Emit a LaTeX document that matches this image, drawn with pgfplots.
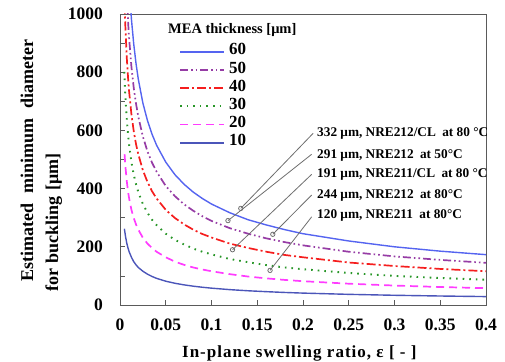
\documentclass[border=0pt]{standalone}
\usepackage{pgfplots}
\pgfplotsset{compat=1.18}
\usepackage{fontspec}
\setmainfont{Liberation Serif}
\definecolor{c60}{RGB}{85,100,240}
\definecolor{c50}{RGB}{150,60,165}
\definecolor{c40}{RGB}{245,30,30}
\definecolor{c30}{RGB}{40,150,40}
\definecolor{c20}{RGB}{255,60,255}
\definecolor{c10}{RGB}{75,85,185}
\definecolor{lead}{RGB}{110,110,110}
\definecolor{axc}{RGB}{90,90,90}
\begin{document}
\begin{tikzpicture}
\begin{axis}[name=ax, scale only axis, width=366pt, height=291pt,
  xmin=0, xmax=0.4, ymin=0, ymax=1000, scaled ticks=false,
  xtick={0,0.05,0.1,0.15,0.2,0.25,0.3,0.35,0.4},
  xticklabels={0,0.05,0.1,0.15,0.2,0.25,0.3,0.35,0.4},
  ytick={0,200,400,600,800,1000},
  yticklabels={0,200,400,600,800,1000},
  minor ytick={100,300,500,700,900},
  tick align=inside, xtick pos=bottom, ytick pos=left,
  major tick length=5pt, minor tick length=5pt,
  axis line style={draw=axc, line width=0.9pt},
  every tick/.style={draw=axc, line width=0.8pt},
  tick label style={font=\fontsize{17.5}{17.5}\selectfont\bfseries},
  xticklabel style={inner sep=0pt, anchor=north, text height=12pt, yshift=-13pt},
  yticklabel style={inner sep=0pt, anchor=east, xshift=-17pt},
  xlabel={\addfontfeatures{LetterSpace=6}In-plane swelling ratio, ε [ - ]},
  xlabel style={font=\fontsize{17}{17}\selectfont\bfseries, anchor=base, at={(axis description cs:0.49,0)}, yshift=-52pt},
  ylabel={\hspace*{10pt}Estimated\hspace{10pt}minimum\hspace{10pt}diameter\\for buckling\hspace{6pt}[μm]},
  ylabel style={font=\fontsize{18}{25}\selectfont\bfseries, align=left, anchor=north, at={(axis description cs:-0.2814,0.481)}},
  legend style={at={(axis description cs:0.161,0.902)}, anchor=north west, draw=none, fill=none,
    font=\fontsize{17}{17}\selectfont\bfseries, inner sep=0pt, row sep=0pt, column sep=4pt,
    nodes={inner sep=0pt, text height=12.2pt, text depth=6pt}},
  legend cell align=left,
  legend image code/.code={\draw[#1] (0pt,0pt) -- (44pt,0pt);},
  clip=true,
]
\addplot[c60, line width=1.4pt] coordinates {
(0.009,1157) (0.01,1098) (0.0125,982) (0.015,897) (0.0175,830) (0.02,776) (0.025,694) (0.03,634) (0.035,587) (0.04,549) (0.05,491) (0.06,448) (0.07,415) (0.08,388) (0.09,366) (0.1,347) (0.12,317) (0.14,293) (0.16,275) (0.18,259) (0.2,245) (0.25,220) (0.3,200) (0.35,185) (0.4,173)};
\addplot[c50, line width=1.7pt, dash pattern=on 8pt off 3pt on 1.6pt off 3pt on 1.6pt off 3pt] coordinates {
(0.006,1181) (0.0075,1057) (0.009,965) (0.01,915) (0.0125,818) (0.015,747) (0.0175,692) (0.02,647) (0.025,579) (0.03,528) (0.035,489) (0.04,458) (0.05,409) (0.06,374) (0.07,346) (0.08,324) (0.09,305) (0.1,289) (0.12,264) (0.14,245) (0.16,229) (0.18,216) (0.2,205) (0.25,183) (0.3,167) (0.35,155) (0.4,145)};
\addplot[c40, line width=1.7pt, dash pattern=on 9pt off 3pt on 2pt off 3pt] coordinates {
(0.0045,1091) (0.005,1035) (0.006,945) (0.0075,845) (0.009,772) (0.01,732) (0.0125,655) (0.015,598) (0.0175,553) (0.02,518) (0.025,463) (0.03,423) (0.035,391) (0.04,366) (0.05,327) (0.06,299) (0.07,277) (0.08,259) (0.09,244) (0.1,232) (0.12,211) (0.14,196) (0.16,183) (0.18,172) (0.2,164) (0.25,146) (0.3,134) (0.35,124) (0.4,116)};
\addplot[c30, line width=1.9pt, dash pattern=on 1.6pt off 5pt] coordinates {
(0.0047,801) (0.005,776) (0.006,709) (0.0075,634) (0.009,579) (0.01,549) (0.0125,491) (0.015,448) (0.0175,415) (0.02,388) (0.025,347) (0.03,317) (0.035,293) (0.04,274.5) (0.05,245) (0.06,224) (0.07,208) (0.08,194) (0.09,183) (0.1,174) (0.12,158) (0.14,147) (0.16,137) (0.18,129) (0.2,123) (0.25,110) (0.3,100) (0.35,92.7) (0.4,86.7)};
\addplot[c20, line width=1.7pt, dash pattern=on 8pt off 5pt] coordinates {
(0.005,518) (0.006,473) (0.0075,423) (0.009,386) (0.01,366) (0.0125,327) (0.015,299) (0.0175,277) (0.02,259) (0.025,231) (0.03,211) (0.035,196) (0.04,183) (0.05,164) (0.06,149) (0.07,138) (0.08,129) (0.09,122) (0.1,116) (0.12,106) (0.14,97.8) (0.16,91.5) (0.18,86.2) (0.2,81.8) (0.25,73.2) (0.3,66.8) (0.35,61.8) (0.4,57.8)};
\addplot[c10, line width=1.4pt] coordinates {
(0.0048,262) (0.006,236) (0.0075,211) (0.009,193) (0.01,183) (0.0125,164) (0.015,149) (0.0175,138) (0.02,129) (0.025,116) (0.03,106) (0.035,98) (0.04,91.5) (0.05,81.8) (0.06,74.7) (0.07,69.2) (0.08,64.7) (0.09,61) (0.1,57.9) (0.12,52.8) (0.14,48.9) (0.16,45.8) (0.18,43.1) (0.2,40.9) (0.25,36.6) (0.3,33.4) (0.35,30.9) (0.4,28.9)};
\legend{60,50,40,30,20,10}
% leader lines
\addplot[lead, line width=0.8pt, forget plot] coordinates {(0.132,332) (0.2111,590)};
\addplot[lead, line width=0.8pt, forget plot] coordinates {(0.118,290) (0.2095,518)};
\addplot[lead, line width=0.8pt, forget plot] coordinates {(0.123,190) (0.2095,449)};
\addplot[lead, line width=0.8pt, forget plot] coordinates {(0.167,243) (0.2095,378)};
\addplot[lead, line width=0.8pt, forget plot] coordinates {(0.164,119) (0.2095,303)};
\addplot[only marks, mark=o, mark size=2.2pt, mark options={draw=lead, line width=0.8pt, fill=white}, forget plot] coordinates {(0.132,332) (0.118,290) (0.123,190) (0.167,243) (0.164,119)};
\begin{scope}[font=\fontsize{13.3}{14}\selectfont\bfseries]
\node[anchor=west, inner sep=0pt] at (axis cs:0.2153,588) {332 μm, NRE212/CL\hspace{3pt} at 80 °C};
\node[anchor=west, inner sep=0pt] at (axis cs:0.2153,515) {291 μm, NRE212\hspace{3pt} at 50°C};
\node[anchor=west, inner sep=0pt] at (axis cs:0.2153,447) {191 μm, NRE211/CL\hspace{3pt} at 80 °C};
\node[anchor=west, inner sep=0pt] at (axis cs:0.2153,375) {244 μm, NRE212\hspace{3pt} at 80°C};
\node[anchor=west, inner sep=0pt] at (axis cs:0.2153,306) {120 μm, NRE211\hspace{3pt} at 80°C};
\end{scope}
\node[anchor=west, inner sep=0pt, font=\fontsize{14.5}{15}\selectfont\bfseries] at (axis description cs:0.131,0.945) {MEA thickness [μm]};
\end{axis}
\pgfresetboundingbox
\path ([xshift=-120pt,yshift=-56pt]ax.south west) rectangle ([xshift=19pt,yshift=14pt]ax.north east);
\end{tikzpicture}
\end{document}
